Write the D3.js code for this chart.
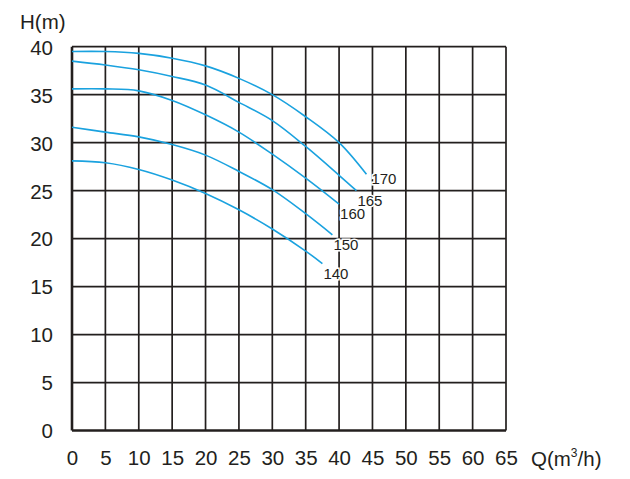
<!DOCTYPE html>
<html>
<head>
<meta charset="utf-8">
<script src="https://cdn.jsdelivr.net/npm/d3@7"></script>
<style>
  body { margin: 0; background: #fff; }
  text { font-family: "Liberation Sans", Arial, sans-serif; }
</style>
</head>
<body>
<div id="chart"></div>
<script>
// Q (m3/h) ticks and H (m) ticks
const qTicks = [0, 5, 10, 15, 20, 25, 30, 35, 40, 45, 50, 55, 60, 65];
const hTicks = [0, 5, 10, 15, 20, 25, 30, 35, 40];

// impeller curves, label -> [Q, H] points
const curve170 = [[0, 39.5], [5, 39.5], [10, 39.3], [15, 38.8], [20, 38.0], [25, 36.7], [30, 35.0], [35, 32.7], [40, 30.0], [44.1, 26.7]];
const curve165 = [[0, 38.5], [5, 38.1], [10, 37.6], [15, 36.9], [20, 36.0], [25, 34.2], [30, 32.3], [35, 29.6], [40, 26.6], [42.6, 25.0]];
const curve160 = [[0, 35.6], [5, 35.6], [10, 35.4], [15, 34.4], [20, 32.9], [25, 31.1], [30, 28.8], [35, 26.3], [40, 23.6]];
const curve150 = [[0, 31.6], [5, 31.1], [10, 30.6], [15, 29.8], [20, 28.7], [25, 27.0], [30, 25.1], [35, 22.6], [39, 20.4]];
const curve140 = [[0, 28.1], [5, 27.9], [10, 27.2], [15, 26.1], [20, 24.7], [25, 23.0], [30, 21.0], [35, 18.7], [37.5, 17.4]];

const curveNames = ["170", "165", "160", "150", "140"];
const curveData = [curve170, curve165, curve160, curve150, curve140];

const width = 630, height = 479;
const gridColor = "#231f1e";
const lineColor = "#1aa2df";

const x = d3.scaleLinear().domain([0, 65]).range([72, 506]);
const y = d3.scaleLinear().domain([0, 40]).range([430.5, 46.7]);

const svg = d3.select("#chart")
    .append("svg")
    .attr("width", width)
    .attr("height", height);

// grid
const grid = svg.append("g");
grid.selectAll(".vline")
    .data(qTicks)
    .enter()
    .append("line")
    .attr("x1", d => x(d))
    .attr("x2", d => x(d))
    .attr("y1", y(40))
    .attr("y2", y(0))
    .attr("stroke", gridColor)
    .attr("stroke-width", d => d === 0 ? 2.6 : 1.7);

grid.selectAll(".hline")
    .data(hTicks)
    .enter()
    .append("line")
    .attr("x1", x(0))
    .attr("x2", x(65))
    .attr("y1", d => y(d))
    .attr("y2", d => y(d))
    .attr("stroke", gridColor)
    .attr("stroke-width", d => d === 0 ? 2.6 : 1.8);

// axes (labels only)
const xAxis = svg.append("g")
    .attr("transform", `translate(0, ${y(0) + 27.5})`)
    .call(d3.axisBottom(x).tickValues(qTicks).tickSize(0).tickPadding(0));
const yAxis = svg.append("g")
    .attr("transform", `translate(${x(0) - 19}, 0)`)
    .call(d3.axisLeft(y).tickValues(hTicks).tickSize(0).tickPadding(0));

[xAxis, yAxis].forEach(a => {
    a.select(".domain").remove();
    a.selectAll("text")
        .attr("font-family", "Liberation Sans, Arial, sans-serif")
        .attr("font-size", 20.5)
        .attr("fill", "#231f20");
});
xAxis.selectAll("text").attr("dy", "0.36em");
yAxis.selectAll("text").attr("dy", "0.36em");

// curves
const line = d3.line()
    .x(d => x(d[0]))
    .y(d => y(d[1]))
    .curve(d3.curveCatmullRom.alpha(0.5));

svg.selectAll(".curve")
    .data(curveData)
    .enter()
    .append("path")
    .attr("class", "curve")
    .attr("d", line)
    .attr("fill", "none")
    .attr("stroke", lineColor)
    .attr("stroke-width", 1.6);

// curve labels, placed just past each curve end
svg.selectAll(".clabel")
    .data(curveData)
    .enter()
    .append("text")
    .attr("class", "clabel")
    .attr("x", (d, i) => x(d[d.length - 1][0]) + (i === 0 ? 5 : 1))
    .attr("y", (d, i) => y(d[d.length - 1][1]) + (i === 0 ? 4 : 10))
    .attr("dy", "0.36em")
    .attr("font-size", 15)
    .attr("fill", "#231f20")
    .attr("stroke", "#fff")
    .attr("stroke-width", 3)
    .attr("paint-order", "stroke")
    .text((d, i) => curveNames[i]);

// axis titles
svg.append("text")
    .attr("x", 20)
    .attr("y", 29)
    .attr("font-size", 20.5)
    .attr("fill", "#231f20")
    .text("H(m)");

const qTitle = svg.append("text")
    .attr("x", 531)
    .attr("y", 465.5)
    .attr("font-size", 20.5)
    .attr("fill", "#231f20");
qTitle.append("tspan").text("Q(m");
qTitle.append("tspan").attr("font-size", 12).attr("dy", -9).text("3");
qTitle.append("tspan").attr("dy", 9).text("/h)");
</script>
</body>
</html>
